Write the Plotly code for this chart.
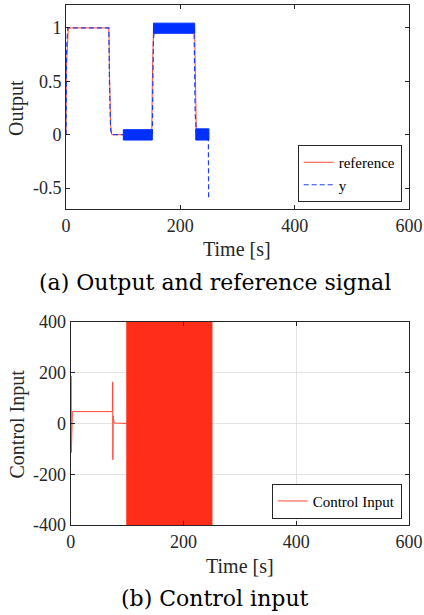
import plotly.graph_objects as go

# ---------------- data ----------------
# (a) reference signal
ref_t = [0, 0.5, 4, 75, 76, 78, 80, 150, 151, 153, 225, 226, 228, 250]
ref_y = [0, 0.6, 1, 1, 0.6, 0.1, 0, 0, 0.5, 1, 1, 0.5, 0, 0]

# (a) output y (dashed line)
y_t = [0, 1, 3, 75, 76, 78, 80, 100, 151, 152, 153, 155, 224, 225, 226, 228, 249, 249.5]
y_y = [0, 0.8, 1, 1, 0.5, 0.05, 0, 0, 0, 0.5, 0.9, 1.0, 1.0, 0.6, 0.2, 0.02, 0, -0.59]

# (a) dense oscillation envelopes of y
yband_start = [100.3, 153, 227]
yband_end = [151, 225, 250]
yband_lo = [-0.05, 0.95, -0.05]
yband_hi = [0.047, 1.045, 0.055]

# (b) control input
u_t = [0, 0.6, 1.2, 1.8, 3, 74, 74.4, 74.8, 75.4, 77, 99]
u_v = [0, 187, -114, 47, 47, 47, 164, -143, 30, 2, 0]

# (b) dense oscillation envelope of control input (clipped by axis)
uband_start = [99.5]
uband_end = [250.5]
uband_lo = [-400]
uband_hi = [400]

x_ticks = [0, 200, 400, 600]
y1_ticks = [-0.5, 0, 0.5, 1]
y1_ticktext = ["-0.5", "0", "0.5", "1"]
y2_ticks = [-400, -200, 0, 200, 400]
y2_ticktext = ["-400", "-200", "0", "200", "400"]

# ---------------- styling ----------------
W, H = 424, 615
RED_LINE = "#ff4a3a"
RED_FILL = "#ff2d1a"
BLUE = "#1f3dff"
BLUE_FILL = "#0030ff"
AX = "#262626"
TICKFONT = dict(family="Liberation Serif", size=18, color="#262626")
SERIF = "Liberation Serif"

fig = go.Figure()

# top plot
fig.add_trace(go.Scatter(x=ref_t, y=ref_y, mode="lines", name="reference",
                         line=dict(color=RED_LINE, width=1), xaxis="x", yaxis="y",
                         legend="legend"))
fig.add_trace(go.Scatter(x=y_t, y=y_y, mode="lines", name="y",
                         line=dict(color=BLUE, width=1.2, dash="5px,3px"), xaxis="x", yaxis="y",
                         legend="legend"))
for s, e, lo, hi in zip(yband_start, yband_end, yband_lo, yband_hi):
    fig.add_trace(go.Scatter(x=[s, e, e, s, s], y=[lo, lo, hi, hi, lo], mode="lines",
                             fill="toself", fillcolor=BLUE_FILL,
                             line=dict(color=BLUE_FILL, width=1),
                             showlegend=False, xaxis="x", yaxis="y", hoverinfo="skip"))

# bottom plot
fig.add_trace(go.Scatter(x=u_t, y=u_v, mode="lines", name="Control Input",
                         line=dict(color=RED_LINE, width=1), xaxis="x2", yaxis="y2",
                         legend="legend2"))
for s, e, lo, hi in zip(uband_start, uband_end, uband_lo, uband_hi):
    fig.add_trace(go.Scatter(x=[s, e, e, s, s], y=[lo, lo, hi, hi, lo], mode="lines",
                             fill="toself", fillcolor=RED_FILL,
                             line=dict(color=RED_FILL, width=1),
                             showlegend=False, xaxis="x2", yaxis="y2", hoverinfo="skip"))

axis_common = dict(showline=True, linecolor=AX, linewidth=1, mirror="ticks",
                   ticks="inside", ticklen=4, tickcolor=AX, tickfont=TICKFONT,
                   zeroline=False, automargin=False)

fig.update_layout(
    width=W, height=H, margin=dict(l=0, r=0, t=0, b=0, autoexpand=False),
    paper_bgcolor="white", plot_bgcolor="white",
    xaxis=dict(domain=[66 / W, 409 / W], anchor="y", range=[0, 600],
               tickvals=x_ticks, showgrid=False, **axis_common),
    yaxis=dict(domain=[1 - 209 / H, 1 - 5 / H], anchor="x", range=[-0.696, 1.215],
               tickvals=y1_ticks, ticktext=y1_ticktext, showgrid=False, **axis_common),
    xaxis2=dict(domain=[70.7 / W, 409 / W], anchor="y2", range=[0, 600],
                tickvals=x_ticks, showgrid=True, gridcolor="#e3e3e3", gridwidth=1,
                **axis_common),
    yaxis2=dict(domain=[1 - 525 / H, 1 - 322 / H], anchor="x2", range=[-400, 400],
                tickvals=y2_ticks, ticktext=y2_ticktext, showgrid=True,
                gridcolor="#e3e3e3", gridwidth=1, **axis_common),
    legend=dict(x=401.7 / W, y=1 - 202 / H, xanchor="right", yanchor="bottom",
                bgcolor="white", bordercolor="#262626", borderwidth=1,
                font=dict(family=SERIF, size=15, color="black"),
                tracegroupgap=0, itemwidth=30),
    legend2=dict(x=401.7 / W, y=1 - 518.7 / H, xanchor="right", yanchor="bottom",
                 bgcolor="white", bordercolor="#262626", borderwidth=1,
                 font=dict(family=SERIF, size=15, color="black"),
                 itemwidth=30),
    showlegend=True,
)

ann = [
    dict(text="Output", x=17 / W, y=1 - 108 / H, textangle=-90, font=dict(family=SERIF, size=20, color="#262626")),
    dict(text="Time [s]", x=237 / W, y=1 - 249 / H, font=dict(family=SERIF, size=20, color="#262626")),
    dict(text="(a) Output and reference signal", x=215 / W, y=1 - 282 / H,
         font=dict(family="DejaVu Serif", size=22, color="black")),
    dict(text="Control Input", x=16.5 / W, y=1 - 424 / H, textangle=-90, font=dict(family=SERIF, size=20, color="#262626")),
    dict(text="Time [s]", x=240 / W, y=1 - 566 / H, font=dict(family=SERIF, size=20, color="#262626")),
    dict(text="(b) Control input", x=215 / W, y=1 - 598 / H,
         font=dict(family="DejaVu Serif", size=22, color="black")),
]
for a in ann:
    a.update(xref="paper", yref="paper", showarrow=False, xanchor="center", yanchor="middle")
fig.update_layout(annotations=ann)

fig.write_html("out.html", config={"displayModeBar": False},
               post_script="document.body.style.margin='0px';document.body.style.overflow='hidden';")
